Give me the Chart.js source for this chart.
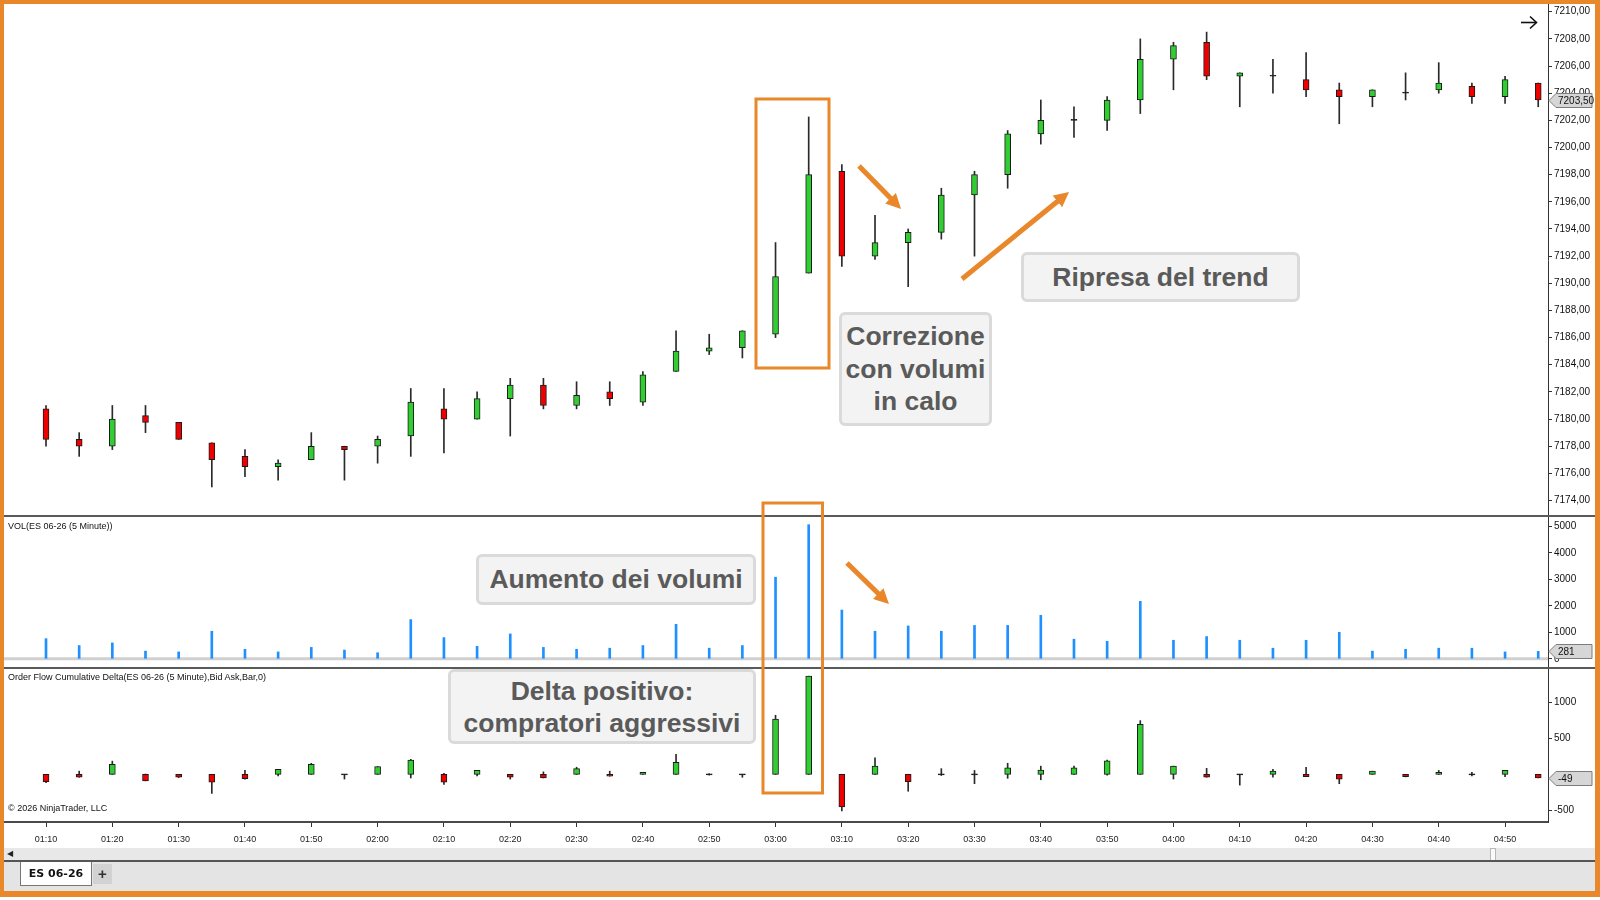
<!DOCTYPE html>
<html>
<head>
<meta charset="utf-8">
<title>ES 06-26 (5 Minute)</title>
<script src="https://cdn.jsdelivr.net/npm/chart.js@4.4.1/dist/chart.umd.min.js"></script>
<style>
  html, body { margin: 0; padding: 0; }
  body { width: 1600px; height: 900px; position: relative; overflow: hidden; background: #fff; font-family: Arial, "Liberation Sans", sans-serif; }
  canvas { position: absolute; left: 4px; }
  #priceChart { top: 4px; }
  #volChart { top: 516px; }
  #deltaChart { top: 667px; }
  .sep { position: absolute; left: 4px; width: 1592px; height: 2px; background: #5a5a5a; }
  .lbl { position: absolute; left: 8px; font-size: 9px; color: #111; white-space: nowrap; }
  .note { position: absolute; box-sizing: border-box; background: #f3f3f3; border: 3px solid #dadada; border-radius: 6px;
          color: #5a5a5a; font-weight: bold; font-size: 26.5px; text-align: center;
          display: flex; align-items: center; justify-content: center; }
  #scroll { position: absolute; left: 4px; top: 848px; width: 1592px; height: 12px; background: #e8e8e8; }
  #scroll .thumb { position: absolute; left: 1486px; top: 0; width: 4px; height: 11px; background: #fafafa; border: 1px solid #b8b8b8; }
  #scroll .left { position: absolute; left: 3px; top: 0; font-size: 8px; line-height: 12px; color: #222; }
  #tabs { position: absolute; left: 4px; top: 860px; width: 1592px; height: 31px; background: #e4e4e4; border-top: 2px solid #555; box-sizing: border-box; }
  #tab { position: absolute; left: 16px; top: 0; width: 72px; height: 24px; background: #fff; border: 1px solid #777; border-top: none; box-sizing: border-box;
         font: bold 11px "DejaVu Sans", sans-serif; color: #111; text-align: center; line-height: 23px; }
  #plus { position: absolute; left: 89px; top: 2px; width: 19px; height: 20px; background: #d2d2d2; font: bold 15px Arial, sans-serif; color: #333; text-align: center; line-height: 19px; }
  #frame { position: absolute; left: 0; top: 0; width: 1600px; height: 897px; box-sizing: border-box; border: 4px solid #e9872b; border-right-width: 5px; border-bottom-width: 6px; pointer-events: none; }
  svg { position: absolute; left: 0; top: 0; }
</style>
</head>
<body>
<canvas id="priceChart" width="1592" height="512"></canvas>
<canvas id="volChart" width="1592" height="151"></canvas>
<canvas id="deltaChart" width="1592" height="181"></canvas>

<div class="sep" style="top:515px"></div>
<div class="sep" style="top:667px"></div>

<div class="lbl" style="top:521px">VOL(ES 06-26 (5 Minute))</div>
<div class="lbl" style="top:672px">Order Flow Cumulative Delta(ES 06-26 (5 Minute),Bid Ask,Bar,0)</div>
<div class="lbl" style="top:803px">© 2026 NinjaTrader, LLC</div>

<div id="scroll"><span class="left">◀</span><div class="thumb"></div></div>
<div id="tabs"><div id="tab">ES 06-26</div><div id="plus">+</div></div>

<svg width="1600" height="900">
  <defs>
    <marker id="ah" viewBox="0 0 3 3" markerWidth="3" markerHeight="3" refX="1.5" refY="1.5" orient="auto" markerUnits="strokeWidth">
      <path d="M0,0 L3,1.5 L0,3 z" fill="#e9872b"/>
    </marker>
  </defs>
  <rect x="756" y="99" width="73" height="269" fill="none" stroke="#e9872b" stroke-width="3"/>
  <rect x="763" y="503" width="59.5" height="290" fill="none" stroke="#e9872b" stroke-width="3"/>
  <line x1="859" y1="166" x2="895.8" y2="203.6" stroke="#e9872b" stroke-width="5" marker-end="url(#ah)"/>
  <line x1="962" y1="279" x2="1063.2" y2="196.7" stroke="#e9872b" stroke-width="5" marker-end="url(#ah)"/>
  <line x1="847" y1="563" x2="883.6" y2="598.8" stroke="#e9872b" stroke-width="5" marker-end="url(#ah)"/>
  <line x1="1521" y1="22.5" x2="1536" y2="22.5" stroke="#111" stroke-width="1.6"/>
  <polyline points="1530,16.5 1536.5,22.5 1530,28.5" fill="none" stroke="#111" stroke-width="1.6"/>
</svg>

<div class="note" style="left:839px;top:312px;width:153px;height:114px;line-height:32.5px">Correzione<br>con volumi<br>in calo</div>
<div class="note" style="left:1021px;top:252px;width:279px;height:50px">Ripresa del trend</div>
<div class="note" style="left:476px;top:554px;width:280px;height:51px">Aumento dei volumi</div>
<div class="note" style="left:448px;top:669px;width:308px;height:75px;line-height:32px">Delta positivo:<br>compratori aggressivi</div>

<div id="frame"></div>

<script>
// 5 minute bars, 01:10 -> 04:55
const timeTicks = ['01:10','01:20','01:30','01:40','01:50','02:00','02:10','02:20','02:30','02:40','02:50','03:00',
                   '03:10','03:20','03:30','03:40','03:50','04:00','04:10','04:20','04:30','04:40','04:50'];

const priceOpen  = [7180.75,7178.5,7178,7180.25,7179.75,7178.25,7177.25,7176.5,7177,7178,7178,7178.75,7180.75,7180,7181.5,7182.5,
                    7181,7182,7181.25,7183.5,7185,7185.25,7186.25,7190.75,7198.25,7192,7193,7193.75,7196.5,7198,7201,7202,
                    7202,7203.5,7206.5,7207.75,7205.25,7205.25,7205,7204.25,7203.75,7204,7204.25,7204.5,7203.75,7204.75];
const priceHigh  = [7181,7179,7181,7181,7179.75,7178.25,7177.75,7177,7179,7178,7178.75,7182.25,7182.25,7182,7183,7183,
                    7182.75,7182.75,7183.5,7186.5,7186.25,7186.5,7193,7202.25,7198.75,7195,7194,7197,7198.25,7201.25,7203.5,7203,
                    7203.75,7208,7207.75,7208.5,7205.5,7206.5,7207,7204.75,7204.25,7205.5,7206.25,7204.75,7205.25,7204.75];
const priceLow   = [7178,7177.25,7177.75,7179,7178.5,7175,7175.75,7175.5,7177,7175.5,7176.75,7177.25,7177.5,7180,7178.75,7180.75,
                    7180.75,7181,7181,7183.5,7184.75,7184.5,7186,7190.75,7191.25,7191.75,7189.75,7193.25,7192,7197,7200.25,7200.75,
                    7201.25,7202.5,7204.25,7205,7203,7204,7203.75,7201.75,7203,7203.5,7204,7203.25,7203.25,7203];
const priceClose = [7178.5,7178,7180,7179.75,7178.5,7177,7176.5,7176.75,7178,7177.75,7178.5,7181.25,7180,7181.5,7182.5,7181,
                    7181.75,7181.5,7183.25,7185,7185.25,7186.5,7190.5,7198,7192,7193,7193.75,7196.5,7198,7201,7202,7202,
                    7203.5,7206.5,7207.5,7205.25,7205.5,7205.25,7204.25,7203.75,7204.25,7204,7204.75,7203.75,7205,7203.5];

const volumes = [760,500,600,290,260,1040,360,260,430,330,230,1480,800,470,940,430,360,400,500,1300,400,500,3080,5060,
                 1840,1040,1240,1040,1260,1260,1640,740,660,2170,700,840,700,400,700,1000,290,360,400,400,260,281];

// cumulative delta, reset every bar (open = 0)
const deltaClose = [-100,-40,140,-90,-40,-110,-60,70,140,0,110,200,-110,55,-40,-50,80,-25,30,170,0,0,770,1370,
                    -455,115,-100,0,0,90,60,90,190,700,115,-40,0,45,-30,-65,45,-30,30,0,55,-49];
const deltaHigh  = [0,45,185,5,0,0,55,70,155,0,110,210,15,55,0,35,100,45,30,280,10,0,825,1370,
                    0,230,0,80,55,155,115,115,200,750,115,85,0,70,100,0,45,0,55,30,55,0];
const deltaLow   = [-115,-40,0,-90,-45,-265,-65,-20,0,-65,0,-50,-140,-20,-65,-50,0,-25,0,0,-10,-40,0,0,
                    -510,0,-235,-15,-130,-55,-75,0,-10,0,-65,-40,-150,-40,-30,-130,0,-35,0,-20,-30,-49];

const priceTicks  = [7174,7176,7178,7180,7182,7184,7186,7188,7190,7192,7194,7196,7198,7200,7202,7204,7206,7208,7210];
const volumeTicks = [0,1000,2000,3000,4000,5000];
const deltaTicks  = [-500,500,1000];

const FONT = 'Arial, "Liberation Sans", sans-serif';
const UP = '#32cd32', DOWN = '#ee0000', FLAT = '#111', WICK = '#2a2a2a';
const X_MIN = -1.267, X_MAX = 45.295;

Chart.defaults.font.family = FONT;
Chart.defaults.color = '#111';

function candleSets(open, high, low, close) {
  const bodies = close.map((c, i) => ({ x: i, y: [Math.min(open[i], c), Math.max(open[i], c)] }));
  const wicks = close.map((c, i) => ({ x: i, y: [low[i], high[i]] }));
  const colors = close.map((c, i) => c > open[i] ? UP : c < open[i] ? DOWN : FLAT);
  return [
    { type: 'bar', data: bodies, backgroundColor: colors, borderColor: '#1a1a1a', borderWidth: 1, borderSkipped: false,
      barThickness: 6, minBarLength: 1, grouped: false, order: 0 },
    { type: 'bar', data: wicks, backgroundColor: WICK, barThickness: 1, grouped: false, order: 1 }
  ];
}

function xAxis(show) {
  return {
    type: 'linear', min: X_MIN, max: X_MAX, display: show, offset: false,
    afterBuildTicks: s => { s.ticks = timeTicks.map((t, k) => ({ value: k * 2 })); },
    afterFit: s => { if (show) s.height = 26; s.paddingLeft = 0; s.paddingRight = 0; },
    grid: { drawOnChartArea: false, offset: false, tickLength: 5, tickColor: '#333' },
    border: { display: true, color: '#4a4a4a', width: 2 },
    ticks: { padding: 7, autoSkip: false, maxRotation: 0, color: '#222', font: { size: 9 },
             callback: (v, i) => timeTicks[i] }
  };
}

function yAxis(min, max, ticks, fmt) {
  return {
    position: 'right', min: min, max: max,
    afterBuildTicks: s => { s.ticks = ticks.map(v => ({ value: v })); },
    afterFit: s => { s.width = 48; s.paddingTop = 0; s.paddingBottom = 0; },
    grid: { drawOnChartArea: false, tickLength: 4, tickColor: '#333', tickWidth: 1 },
    border: { display: true, color: '#333', width: 1 },
    ticks: { padding: 2, autoSkip: false, color: '#111', font: { size: 10 }, callback: fmt }
  };
}

const lastMarker = {
  id: 'lastMarker',
  afterDraw(chart, args, opts) {
    const y = Math.round(chart.scales.y.getPixelForValue(opts.value)) + 0.5;
    const x = chart.chartArea.right + 1;
    const ctx = chart.ctx;
    ctx.save();
    ctx.beginPath();
    ctx.moveTo(x, y);
    ctx.lineTo(x + 7, y - 7);
    ctx.lineTo(x + 43, y - 7);
    ctx.lineTo(x + 43, y + 7);
    ctx.lineTo(x + 7, y + 7);
    ctx.closePath();
    ctx.fillStyle = '#d6d6d6';
    ctx.fill();
    ctx.strokeStyle = '#7c7c7c';
    ctx.lineWidth = 1;
    ctx.stroke();
    ctx.fillStyle = '#111';
    ctx.font = '10px ' + FONT;
    ctx.textBaseline = 'middle';
    ctx.fillText(opts.text, x + 9, y + 1);
    ctx.restore();
  }
};

const zeroLine = {
  id: 'zeroLine',
  beforeDatasetsDraw(chart) {
    const y = chart.scales.y.getPixelForValue(0);
    const ctx = chart.ctx;
    ctx.save();
    ctx.strokeStyle = '#d0d0d0';
    ctx.lineWidth = 3;
    ctx.beginPath();
    ctx.moveTo(chart.chartArea.left, y);
    ctx.lineTo(chart.chartArea.right, y);
    ctx.stroke();
    ctx.restore();
  }
};

function baseOptions(scales, marker) {
  return {
    responsive: false, animation: false, devicePixelRatio: 1,
    layout: { padding: 0 },
    plugins: { legend: { display: false }, tooltip: { enabled: false }, lastMarker: marker },
    scales: scales
  };
}

const last = priceClose.length - 1;
const comma2 = v => v.toFixed(2).replace('.', ',');

new Chart(document.getElementById('priceChart'), {
  type: 'bar',
  data: { datasets: candleSets(priceOpen, priceHigh, priceLow, priceClose) },
  options: baseOptions({ x: xAxis(false), y: yAxis(7172.86, 7210.57, priceTicks, comma2) },
                       { value: priceClose[last], text: comma2(priceClose[last]) }),
  plugins: [lastMarker]
});

new Chart(document.getElementById('volChart'), {
  type: 'bar',
  data: { datasets: [{ data: volumes.map((v, i) => ({ x: i, y: v })), backgroundColor: '#1e90ff', barThickness: 2 }] },
  options: baseOptions({ x: xAxis(false), y: yAxis(-309, 5389, volumeTicks, v => String(v)) },
                       { value: volumes[last], text: String(volumes[last]) }),
  plugins: [zeroLine, lastMarker]
});

new Chart(document.getElementById('deltaChart'), {
  type: 'bar',
  data: { datasets: candleSets(deltaClose.map(() => 0), deltaHigh, deltaLow, deltaClose) },
  options: baseOptions({ x: xAxis(true), y: yAxis(-664, 1498, deltaTicks, v => String(v)) },
                       { value: deltaClose[last], text: String(deltaClose[last]) }),
  plugins: [lastMarker]
});
</script>
</body>
</html>
